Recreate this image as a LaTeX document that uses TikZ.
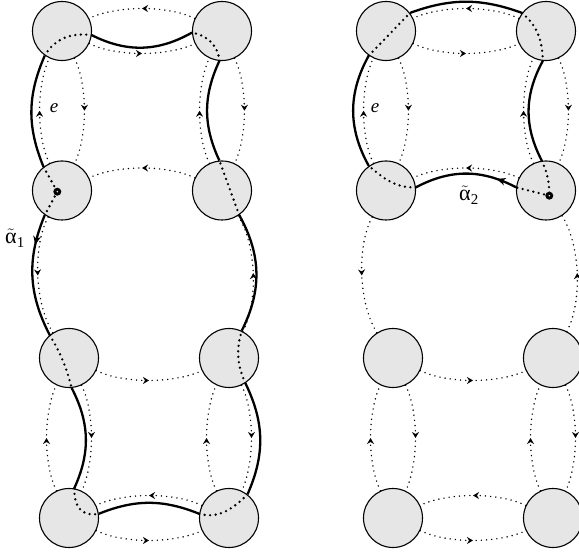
\documentclass[tikz,border=0pt]{standalone}
\usepackage{fontspec}
\setmainfont{Liberation Serif}
\usetikzlibrary{arrows.meta,decorations.markings}
\definecolor{vfill}{RGB}{230,230,230}
\tikzset{
  vtx/.style={circle,draw,fill=vfill,line width=1.1pt,minimum size=59pt,inner sep=0pt},
  half/.style={line width=1.6pt,dash pattern=on 0pt off 5.2pt,line cap=round,
    postaction={decorate},
    decoration={markings,mark=at position 0.5 with {\arrow{Stealth[length=6pt,width=7pt,inset=2pt]}}}},
  curve/.style={line width=2.3pt},
  hidden/.style={line width=2.6pt,dash pattern=on 0pt off 5.5pt,line cap=round},
  aarrow/.style={postaction={decorate},
    decoration={markings,mark=at position #1 with {\arrow{Stealth[length=8.5pt,width=7.5pt,inset=2.5pt]}}}},
  lbl/.style={font=\fontsize{19}{22}\selectfont,inner sep=0pt},
  albl/.style={font=\fontsize{22}{25}\selectfont,inner sep=0pt},
}
\newcommand\gridpanel[1]{%
  \node[vtx] (#1a1) at (62,-31) {};
  \node[vtx] (#1b1) at (222,-31) {};
  \node[vtx] (#1a2) at (62,-190.5) {};
  \node[vtx] (#1b2) at (222,-190.5) {};
  \node[vtx] (#1a3) at (69,-358) {};
  \node[vtx] (#1b3) at (229,-358) {};
  \node[vtx] (#1a4) at (69,-518) {};
  \node[vtx] (#1b4) at (229,-518) {};
  \draw[half] (#1b1) to[bend right=25,looseness=0.75] (#1a1);
  \draw[half] (#1a1) to[bend right=25,looseness=0.75] (#1b1);
  \draw[half] (#1a2) to[bend left=25,looseness=0.75] (#1a1);
  \draw[half] (#1a1) to[bend left=25,looseness=0.75] (#1a2);
  \draw[half] (#1b2) to[bend left=25,looseness=0.75] (#1b1);
  \draw[half] (#1b1) to[bend left=25,looseness=0.75] (#1b2);
  \draw[half] (#1b2) to[bend right=25,looseness=0.75] (#1a2);
  \draw[half] (#1a2) to[bend right=30,looseness=0.75] (#1a3);
  \draw[half] (#1b3) to[bend right=30,looseness=0.75] (#1b2);
  \draw[half] (#1a3) to[bend right=25,looseness=0.75] (#1b3);
  \draw[half] (#1a4) to[bend left=25,looseness=0.75] (#1a3);
  \draw[half] (#1a3) to[bend left=25,looseness=0.75] (#1a4);
  \draw[half] (#1b4) to[bend left=25,looseness=0.75] (#1b3);
  \draw[half] (#1b3) to[bend left=25,looseness=0.75] (#1b4);
  \draw[half] (#1b4) to[bend right=25,looseness=0.75] (#1a4);
  \draw[half] (#1a4) to[bend right=25,looseness=0.75] (#1b4);
}
\begin{document}
\begin{tikzpicture}[x=1pt,y=1pt]
\path[use as bounding box] (0,0) rectangle (579,-556);
% left panel
\gridpanel{}
\coordinate (p1) at (57.3,-191.7);
\draw[curve,aarrow=0.25] (a2.235) to[bend right=25] (a3.130);
\draw[curve] (a3.-85) to[bend left=26] (a4.80);
\draw[curve] (a4.8) to[bend left=22] (b4.172);
\draw[curve] (b4.52) to[bend right=25] (b3.-57);
\draw[curve] (b3.65) to[bend right=28] (b2.-55);
\draw[curve] (b2.95) to[bend left=25] (b1.-95);
\draw[curve] (b1.183) to[bend left=28] (a1.-8);
\draw[curve] (a1.235) to[bend right=23] (a2.128);
\draw[hidden] (p1) -- (a2.235);
\draw[hidden] (a3.130) to[bend left=8] (a3.-85);
\draw[hidden] (a4.80) to[out=-90,in=190,looseness=1.3] (a4.8);
\draw[hidden] (b4.172) to[out=-15,in=225] (b4.52);
\draw[hidden] (b3.-57) to[bend left=20] (b3.65);
\draw[hidden] (b2.-55) -- (b2.95);
\draw[hidden] (b1.-95) to[out=95,in=-10] (b1.183);
\draw[hidden] (a1.-8) to[out=172,in=60] (a1.235);
\draw[hidden] (a2.128) -- (p1);
\fill (p1) circle (4);
\fill[white] (p1) circle (0.8);
\node[lbl] (e1) at (54,-108) {\textit{e}};
\node[albl] (al1) at (15,-238) {$\tilde{\hbox{α}}_{\hbox{\fontsize{15}{15}\selectfont 1}}$};
% right panel
\begin{scope}[xshift=324pt]
\gridpanel{r}
\coordinate (p2) at (225.3,-195.7);
\node[lbl] (e2) at (51,-108) {\textit{e}};
\node[albl] (al2) at (145,-195) {$\tilde{\hbox{α}}_{\hbox{\fontsize{15}{15}\selectfont 2}}$};
\end{scope}
\draw[curve,aarrow=0.2] (rb2.174) to[bend right=28] (ra2.6);
\draw[curve] (ra2.125) to[bend left=29] (ra1.235);
\draw[curve] (ra1.37) to[bend left=20] (rb1.143);
\draw[curve] (rb1.-96) to[bend right=28] (rb2.98);
\draw[hidden] (p2) -- (rb2.174);
\draw[hidden] (ra2.6) to[out=182,in=-40] (ra2.125);
\draw[hidden] (ra1.235) -- (ra1.37);
\draw[hidden] (rb1.143) to[out=-40,in=92] (rb1.-96);
\draw[hidden] (rb2.98) to[bend left=12] (p2);
\fill (p2) circle (4);
\fill[white] (p2) circle (0.8);
\end{tikzpicture}
\end{document}
